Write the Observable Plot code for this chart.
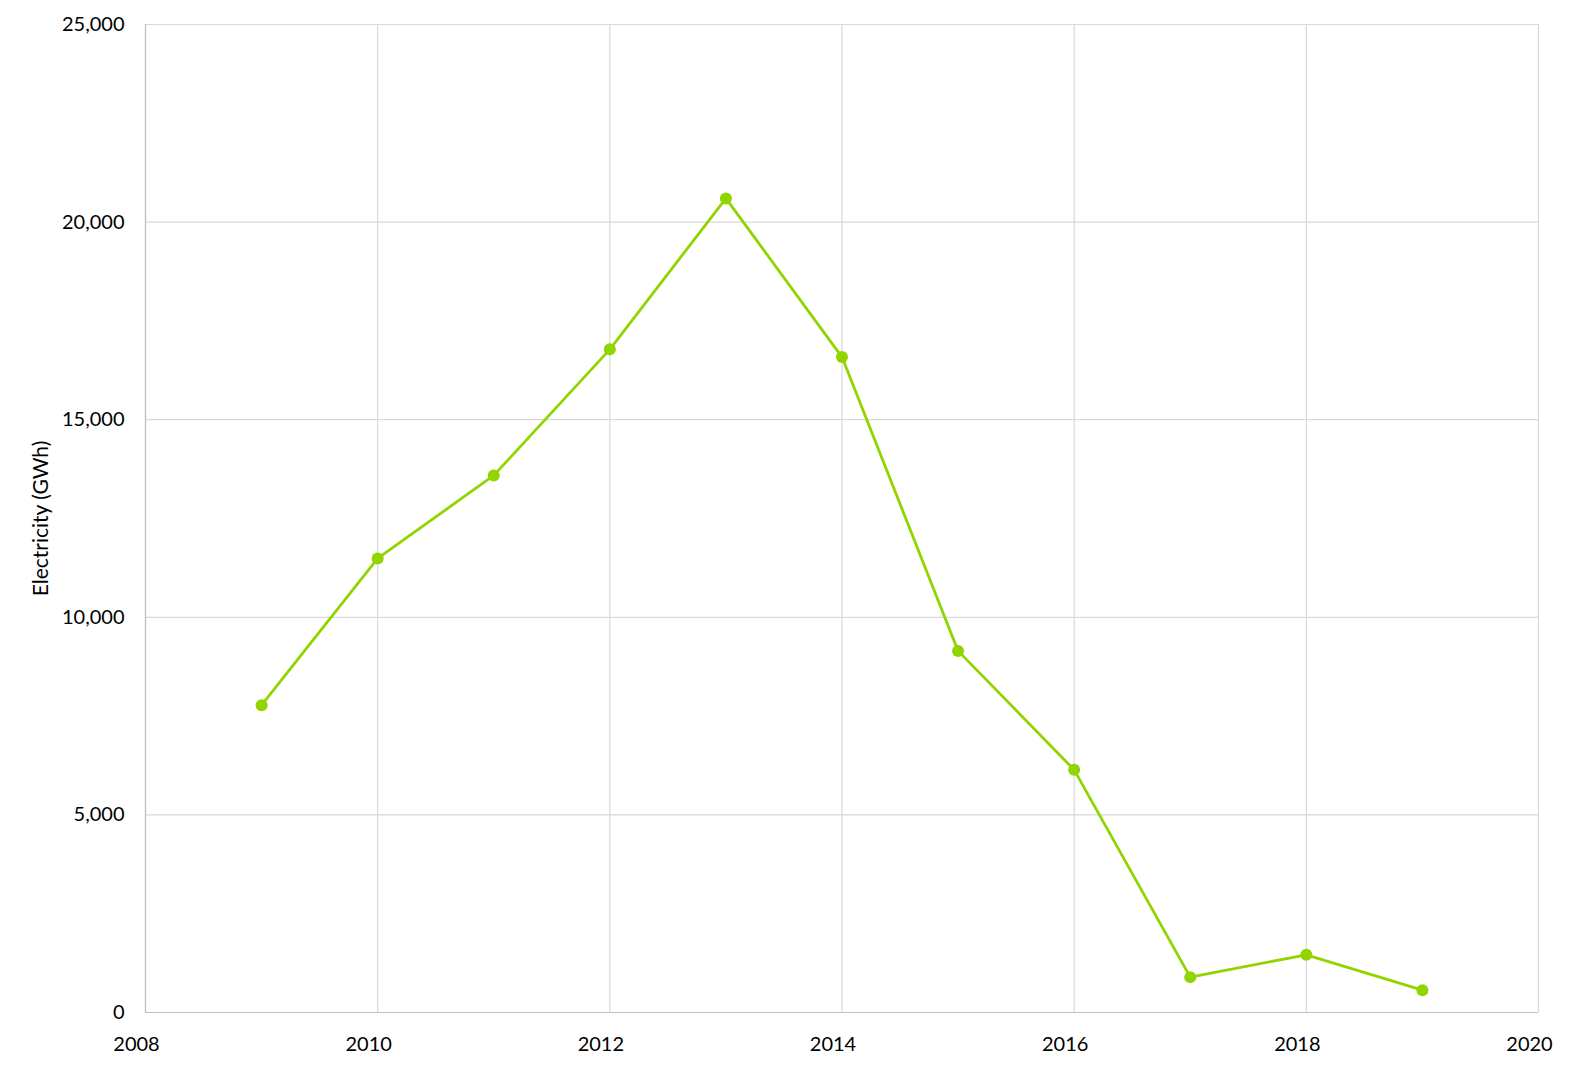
<!DOCTYPE html>
<html>
<head>
<meta charset="utf-8">
<script src="https://cdn.jsdelivr.net/npm/d3@7"></script>
<script src="https://cdn.jsdelivr.net/npm/@observablehq/plot@0.6"></script>
<style>
  html, body { margin: 0; padding: 0; background: #fff; }
  #chart { width: 1596px; height: 1069px; }
</style>
</head>
<body>
<div id="chart"></div>
<script>
const years = [2009, 2010, 2011, 2012, 2013, 2014, 2015, 2016, 2017, 2018, 2019];
const electricity = [7775, 11490, 13590, 16780, 20600, 16585, 9150, 6140, 895, 1460, 565];
const xTicks = [2008, 2010, 2012, 2014, 2016, 2018, 2020];
const yTicks = [0, 5000, 10000, 15000, 20000, 25000];
const yLabel = "Electricity (GWh)";

const data = years.map((year, i) => ({ year, value: electricity[i] }));
const lineColor = "#92d400";
const gridColor = "#d9d9d9";

const chart = Plot.plot({
  width: 1596,
  height: 1069,
  marginLeft: 145,
  marginRight: 58,
  marginTop: 24,
  marginBottom: 57,
  style: { fontFamily: "Lato, sans-serif", fontSize: "20px", color: "#000", background: "#fff" },
  x: { domain: [2008, 2020], ticks: xTicks },
  y: { domain: [0, 25000], ticks: yTicks },
  marks: [
    Plot.ruleX(xTicks, { stroke: gridColor, strokeWidth: 1.2 }),
    Plot.ruleY(yTicks, { stroke: gridColor, strokeWidth: 1.2 }),
    Plot.ruleY([0], { stroke: "#bfbfbf", strokeWidth: 1.2 }),
    Plot.ruleX([2008], { stroke: "#bfbfbf", strokeWidth: 1.2 }),
    Plot.axisX({ ticks: xTicks, tickSize: 0, tickPadding: 24, dx: -9, tickFormat: d3.format("d"), label: null, fontSize: 20 }),
    Plot.axisY({ ticks: yTicks, tickSize: 0, tickPadding: 21, tickFormat: d3.format(","), label: null, fontSize: 20 }),
    Plot.axisY({ ticks: [], tickSize: 0, label: yLabel, labelAnchor: "center", labelOffset: 112, labelArrow: "none", fontSize: 21 }),
    Plot.line(data, { x: "year", y: "value", stroke: lineColor, strokeWidth: 2.8 }),
    Plot.dot(data, { x: "year", y: "value", fill: lineColor, r: 6 })
  ]
});
document.getElementById("chart").appendChild(chart);
</script>
</body>
</html>
